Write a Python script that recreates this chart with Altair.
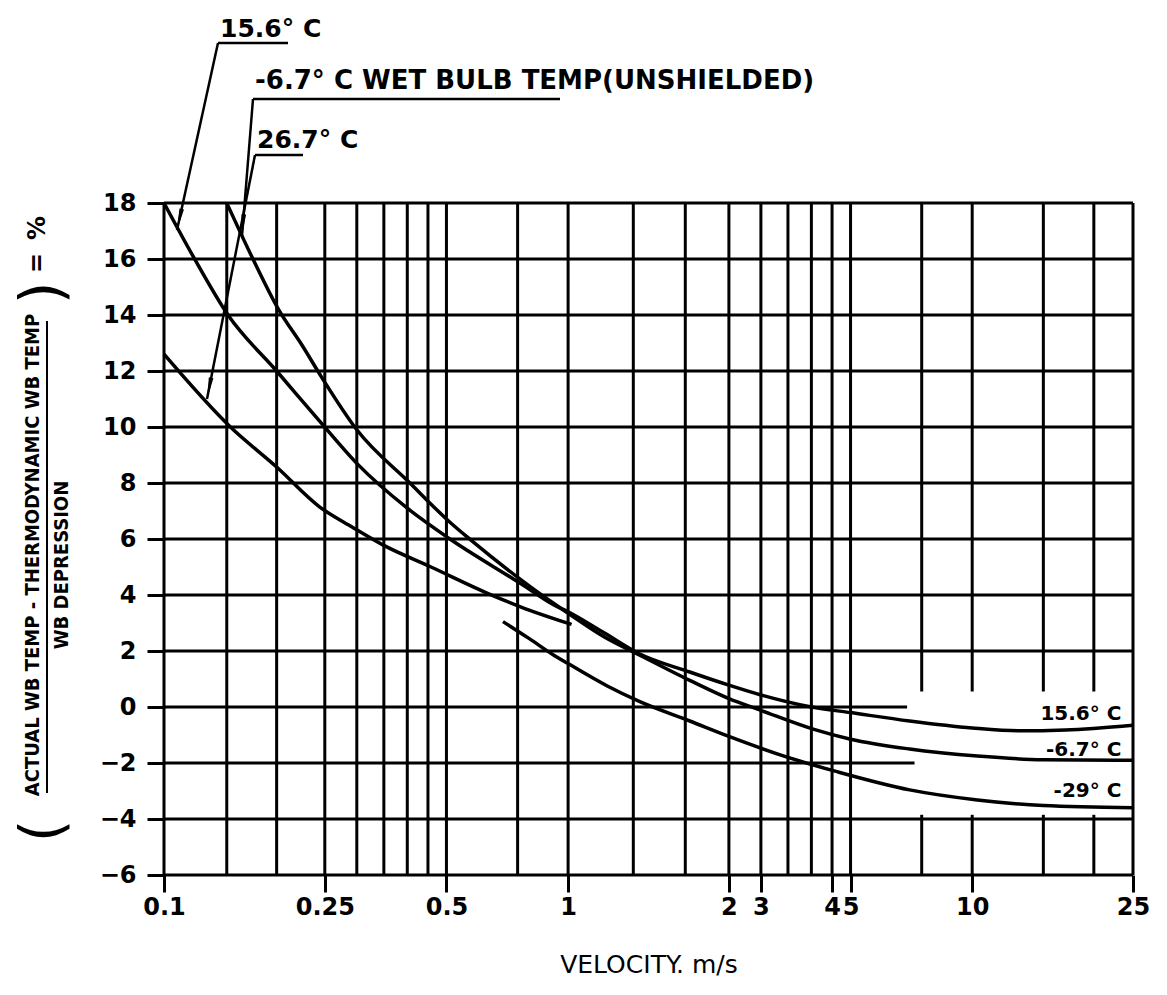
import altair as alt
import pandas as pd

# ---------------- data ----------------
# 15.6 C curve
c156_v = [0.1, 0.118, 0.144, 0.19, 0.243, 0.30, 0.40, 0.51, 0.765, 0.92, 1.0, 1.23, 1.5, 2.0, 2.5, 3.0, 4.0, 5.0, 7.0, 10.0, 13.0, 17.0, 25.0]
c156_y = [18.0, 16.1, 14.0, 12.0, 10.2, 8.7, 7.1, 6.0, 4.4, 3.65, 3.4, 2.64, 1.9, 1.25, 0.78, 0.43, 0.0, -0.2, -0.5, -0.75, -0.85, -0.82, -0.65]
# -6.7 C curve (wet bulb, unshielded)
cm67_v = [0.143, 0.166, 0.192, 0.22, 0.245, 0.30, 0.406, 0.51, 0.575, 0.765, 0.86, 1.0, 1.23, 1.5, 2.0, 2.5, 3.0, 4.06, 5.0, 7.0, 10.3, 15.0, 25.0]
cm67_y = [18.0, 16.0, 14.2, 12.9, 11.8, 9.9, 8.0, 6.6, 5.96, 4.54, 4.0, 3.35, 2.5, 1.86, 0.95, 0.3, -0.12, -0.8, -1.15, -1.5, -1.75, -1.88, -1.9]
# 26.7 C curve
c267_v = [0.1, 0.146, 0.19, 0.243, 0.292, 0.348, 0.458, 0.63, 0.765, 1.02]
c267_y = [12.6, 10.0, 8.57, 7.14, 6.43, 5.79, 5.0, 4.07, 3.57, 2.95]
# -29 C curve
cm29_v = [0.69, 0.8, 0.92, 1.0, 1.25, 1.5, 2.0, 2.5, 3.5, 4.6, 7.0, 10.3, 15.0, 25.0]
cm29_y = [3.05, 2.45, 1.86, 1.55, 0.75, 0.2, -0.5, -1.05, -1.8, -2.3, -2.96, -3.32, -3.52, -3.6]

# grid values
grid_v_full = [0.1, 0.143, 0.19, 0.25, 0.3, 0.35, 0.4, 0.45, 0.5, 0.75, 1, 1.45, 1.95, 2.5, 3, 3.5, 4, 4.5, 5, 25]
grid_v_split = [7.5, 10, 15, 20]
grid_h_full = [-6, -4, 2, 4, 6, 8, 10, 12, 14, 16, 18]
grid_h_part = [0, -2]
grid_h_part_end = [6.9, 7.2]

# axes
x_tick_values = [0.1, 0.25, 0.5, 1, 2.5, 3, 4.5, 5, 10, 25]
x_tick_labels = ["0.1", "0.25", "0.5", "1", "2", "3", "4", "5", "10", "25"]
y_tick_values = [-6, -4, -2, 0, 2, 4, 6, 8, 10, 12, 14, 16, 18]

# right-hand curve labels
end_labels = ["15.6° C", "-6.7° C", "-29° C"]
end_label_y = [-0.25, -1.55, -3.0]
end_label_x = [23.4, 23.4, 23.4]

# ---------------- tables ----------------
curves = pd.concat([
    pd.DataFrame({"v": c156_v, "val": c156_y, "s": "15.6"}),
    pd.DataFrame({"v": cm67_v, "val": cm67_y, "s": "-6.7"}),
    pd.DataFrame({"v": c267_v, "val": c267_y, "s": "26.7"}),
    pd.DataFrame({"v": cm29_v, "val": cm29_y, "s": "-29"}),
], ignore_index=True)

rows = []
for v in grid_v_full:
    rows.append({"x": v, "x2": v, "y": -6, "y2": 18})
for v in grid_v_split:
    rows.append({"x": v, "x2": v, "y": 0.55, "y2": 18})
    rows.append({"x": v, "x2": v, "y": -6, "y2": -3.85})
for h in grid_h_full:
    rows.append({"x": 0.1, "x2": 25, "y": h, "y2": h})
for h, e in zip(grid_h_part, grid_h_part_end):
    rows.append({"x": 0.1, "x2": e, "y": h, "y2": h})
grid = pd.DataFrame(rows)

ends = pd.DataFrame({"v": end_label_x, "val": end_label_y, "t": end_labels})

label_expr = ""
for v, l in zip(x_tick_values, x_tick_labels):
    label_expr += f"datum.value == {v} ? '{l}' : "
label_expr += "''"

FONT = "DejaVu Sans"
NARROW = "DejaVu Sans Condensed, DejaVu Sans"

xscale = alt.Scale(type="log", domain=[0.1, 25], nice=False)
yscale = alt.Scale(domain=[-6, 18], nice=False, zero=False)

xaxis = alt.Axis(values=x_tick_values, labelExpr=label_expr, domain=False, grid=False,
                 tickSize=17, tickWidth=3, tickColor="black", labelFont=FONT,
                 labelFontSize=24, labelFontWeight="bold", labelColor="black",
                 labelPadding=3, labelFlush=False, labelOverlap=False,
                 title="VELOCITY. m/s", titleFont=FONT, titleFontSize=25,
                 titleFontWeight="normal", titleColor="black", titlePadding=33)
yaxis = alt.Axis(values=y_tick_values, domain=False, grid=False, tickSize=17, tickWidth=3,
                 tickColor="black", labelFont=FONT, labelFontSize=24, labelFontWeight="bold",
                 labelColor="black", labelPadding=11, title=None)

gridlayer = alt.Chart(grid).mark_rule(color="black", strokeWidth=3).encode(
    x=alt.X("x:Q", scale=xscale, axis=xaxis),
    x2="x2:Q",
    y=alt.Y("y:Q", scale=yscale, axis=yaxis),
    y2="y2:Q",
)

lines = alt.Chart(curves).mark_line(color="black", strokeWidth=3.5, interpolate="monotone").encode(
    x=alt.X("v:Q", scale=xscale),
    y=alt.Y("val:Q", scale=yscale),
    detail="s:N",
)

endtext = alt.Chart(ends).mark_text(align="right", baseline="middle", font=FONT,
                                    fontWeight="bold", fontSize=20, color="black").encode(
    x=alt.X("v:Q", scale=xscale),
    y=alt.Y("val:Q", scale=yscale),
    text="t:N",
)

one = pd.DataFrame({"a": [0]})


def txt(s, x, y, size=22, weight="bold", angle=0, align="left", baseline="alphabetic", font=FONT):
    kw = dict(text=s, fontSize=size, fontWeight=weight, align=align, baseline=baseline,
              font=font, color="black")
    if angle:
        kw["angle"] = angle
    return alt.Chart(one).mark_text(**kw).encode(x=alt.value(x), y=alt.value(y))


def seg(x1, y1, x2, y2, w=2.5):
    return alt.Chart(one).mark_rule(color="black", strokeWidth=w).encode(
        x=alt.value(x1), y=alt.value(y1), x2=alt.value(x2), y2=alt.value(y2))


def arrow(x, y, ang):
    return alt.Chart(one).mark_point(shape="M0,1 L-0.22,-1 L0.22,-1 Z", filled=True, color="black",
                                     opacity=1, size=450, angle=ang).encode(
        x=alt.value(x), y=alt.value(y))


annot = [
    # 15.6 C leader
    txt("15.6° C", 56, -166, size=25),
    seg(54, -160, 124, -160),
    seg(54, -160, 13, 27),
    arrow(15.4, 16.3, 12.4),
    # -6.7 C leader
    txt("-6.7° C WET  BULB  TEMP(UNSHIELDED)", 91, -114, size=26),
    seg(89, -104, 396, -104),
    seg(89, -104, 78, 33),
    arrow(78.9, 22, 4.6),
    # 26.7 C leader
    txt("26.7° C", 93, -55, size=25),
    seg(91, -48, 139, -48),
    seg(91, -48, 43, 196),
    arrow(45.1, 185.2, 11.1),
    # y axis title (fraction)
    txt("ACTUAL  WB  TEMP   -   THERMODYNAMIC  WB  TEMP", -131, 352, size=20, angle=270,
        align="center", baseline="middle", font=NARROW),
    seg(-117, 118, -117, 590, w=2),
    txt("WB  DEPRESSION", -102, 362, size=20, angle=270, align="center", baseline="middle",
        font=NARROW),
    txt("(", -119, 628, size=58, weight="normal", angle=270, align="center", baseline="middle"),
    txt(")", -119, 90, size=58, weight="normal", angle=270, align="center", baseline="middle"),
    txt("=", -126, 60, size=24, weight="bold", angle=270, align="center", baseline="middle"),
    txt("%", -126, 25, size=24, weight="bold", angle=270, align="center", baseline="middle"),
]

chart = alt.layer(gridlayer, lines, endtext, *annot).properties(
    width=969, height=672,
    autosize=alt.AutoSizeParams(type="none"),
    padding={"left": 156, "top": 195, "right": 20, "bottom": 110},
    background="white",
).configure_view(stroke=None)

chart.save("out.html", embed_options={"renderer": "svg", "actions": False})
